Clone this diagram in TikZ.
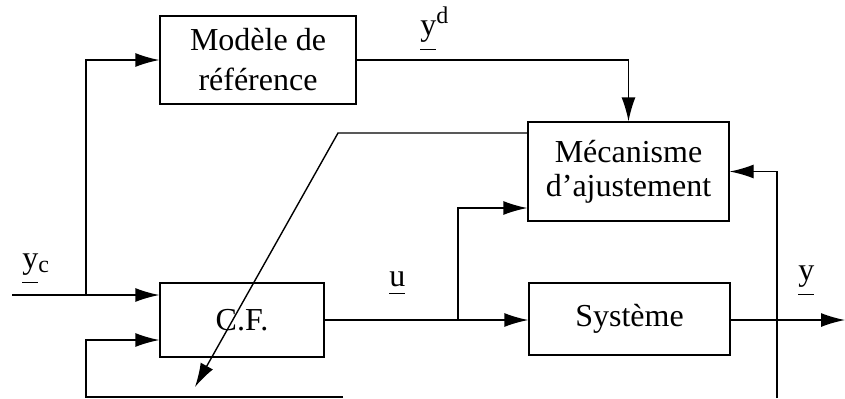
\documentclass[tikz,border=0pt]{standalone}
\usepackage{fontspec}
\setmainfont{Liberation Serif}
\usetikzlibrary{positioning,calc,arrows.meta}
% signal name with a bar set below its depth
\newcommand\sigul[1]{\leavevmode\setbox0\hbox{#1}%
  \rlap{\rule[\dimexpr-\dp0-4pt\relax]{\wd0}{0.6pt}}\box0}
\newcommand\sigsub[1]{\raisebox{-2pt}{\fontsize{12}{12}\selectfont #1}}
\newcommand\sigsup[1]{\raisebox{6pt}{\fontsize{12}{12}\selectfont #1}}
\tikzset{
  blk/.style ={draw, line width=0.7pt, align=center,
               font=\fontsize{16}{19}\selectfont, inner sep=0pt},
  flow/.style={-{Latex[length=12pt,width=7pt]}, line width=0.7pt},
  wire/.style={line width=0.7pt},
  sig/.style ={font=\fontsize{16}{19}\selectfont, inner sep=0pt, anchor=base west},
}
\begin{document}
\begin{tikzpicture}[x=0.5pt,y=-0.5pt]
  \useasboundingbox (0,0) rectangle (845,398);
  % blocks
  \node[blk, minimum width=98pt, minimum height=44pt,
        font=\fontsize{16}{20}\selectfont] (model) at (258,60) {Modèle de\\référence};
  \node[blk, minimum width=100.5pt, minimum height=49.5pt,
        font=\fontsize{16}{17}\selectfont] (meca) at (628.5,171.5) {Mécanisme\\d’ajustement};
  \node[blk, minimum width=82pt, minimum height=37pt] (cf) at (242,320) {C.F.};
  \node[blk, minimum width=100.5pt, minimum height=36pt] (sys) at (629.5,319) {Système};
  % free ends and branch points
  \coordinate (yin)   at (12,295);
  \coordinate (csplit) at (86,295);
  \coordinate (fbend) at (343,397);
  \coordinate (fb)    at (86,340);
  \coordinate (usplit) at (458,320);
  \coordinate (yout)  at (845,320);
  \coordinate (rbot)  at (777,398);
  \coordinate (kink)  at (338,133);
  \coordinate (adj)   at (195,387);
  % reference input
  \draw[wire] (yin) -- (csplit);
  \draw[flow] (csplit) -- (csplit -| cf.west);
  \draw[flow] (csplit) |- (model.west);
  \draw[flow] (model.east) -| (meca.north);
  % control loop
  \draw[flow] (cf.east |- usplit) -- (usplit -| sys.west);
  \draw[flow] (usplit) |- ($(meca.west)+(0,36.5)$);
  \draw[flow] (sys.east |- yout) -- (yout);
  \draw[flow] (fbend) -| (fb) -- (fb -| cf.west);
  \draw[flow] (rbot) |- (meca.east);
  % adjustment of the controller
  \draw[flow] (meca.west |- kink) -- (kink) -- (adj);
  % signal labels
  \node[sig] (lyc) at (22,268) {\sigul{y}\sigsub{c}};
  \node[sig] (lyd) at (420,35) {\sigul{y}\sigsup{d}};
  \node[sig] (lu)  at (389,286) {\sigul{u}};
  \node[sig] (ly)  at (798,280) {\sigul{y}};
\end{tikzpicture}
\end{document}
